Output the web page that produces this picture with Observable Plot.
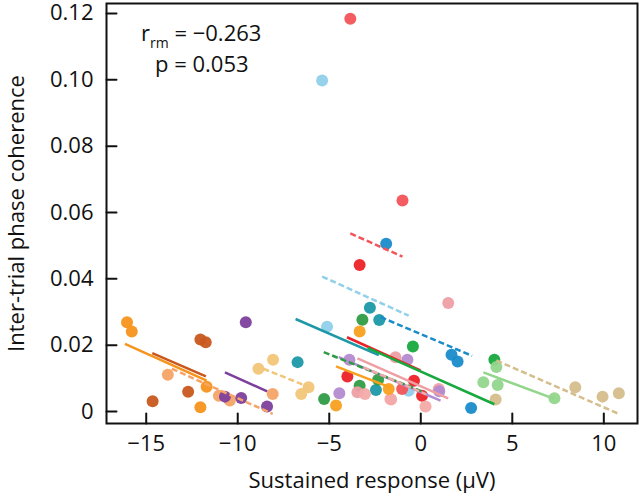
<!DOCTYPE html>
<html>
<head>
<meta charset="utf-8">
<script src="https://cdn.jsdelivr.net/npm/d3@7"></script>
<script src="https://cdn.jsdelivr.net/npm/@observablehq/plot@0.6"></script>
<style>
  html, body { margin: 0; padding: 0; background: #fff; }
  #chart { width: 640px; height: 500px; }
</style>
</head>
<body>
<div id="chart"></div>
<script>
// ---- Data ----
const xTicks = [-15, -10, -5, 0, 5, 10];
const yTicks = [0, 0.02, 0.04, 0.06, 0.08, 0.10, 0.12];
const xTitle = "Sustained response (µV)";
const yTitle = "Inter-trial phase coherence";
const statR = "−0.263";
const statP = "0.053";

// one colour per participant
const subjectColor = [
  "#f7941d", "#c8581e", "#f6a467", "#7d3f9c", "#f2c679", "#1c98a6",
  "#1a8cca", "#90d0ea", "#f2545a", "#ec2227", "#2f9c44", "#17a83e",
  "#92d68c", "#d5be8d", "#ee9fa4", "#f3aaa8", "#b38bd0", "#f8a120"
];

// observations (participant, sustained response, ITPC)
const pointSubject = [
  1, 1, 1, 1,
  2, 2, 2, 2,
  3, 3, 3, 3,
  4, 4, 4, 4,
  5, 5, 5, 5,
  6, 6, 6, 6,
  7, 7, 7, 7,
  8, 8, 8,
  9, 9, 9,
  10, 10, 10, 10,
  11, 11, 11, 11,
  12, 12,
  13, 13, 13, 13,
  14, 14, 14, 14,
  15, 15, 15, 15,
  16, 16, 16, 16,
  17, 17, 17, 17,
  18, 18, 18
];
const pointX = [
  -16.05, -15.79, -11.70, -12.04,
  -12.04, -11.75, -12.71, -14.65,
  -13.82, -11.03, -10.43, -8.09,
  -9.56, -10.70, -9.81, -8.40,
  -8.87, -8.07, -6.13, -6.53,
  -6.73, -2.78, -2.27, -2.45,
  -1.89, 1.68, 2.01, 2.75,
  -5.39, -5.12, -0.66,
  -3.85, -1.00, -1.02,
  -3.34, -4.01, -0.37, 0.07,
  -3.19, -5.28, -3.34, -2.33,
  -0.43, 4.02,
  3.42, 4.13, 4.20, 7.30,
  4.09, 8.44, 9.93, 10.82,
  1.50, -3.46, -1.38, 0.98,
  -3.05, -1.62, 0.26, -1.66,
  -3.90, -0.73, -4.45, 1.01,
  -3.34, -4.63, -1.75
];
const pointY = [
  0.0269, 0.0241, 0.0075, 0.0013,
  0.0217, 0.0209, 0.0060, 0.0031,
  0.0111, 0.0048, 0.0033, 0.0053,
  0.0269, 0.0045, 0.0041, 0.0015,
  0.0129, 0.0156, 0.0073, 0.0053,
  0.0149, 0.0313, 0.0276, 0.0065,
  0.0506, 0.0171, 0.0151, 0.0011,
  0.0998, 0.0256, 0.0063,
  0.1184, 0.0636, 0.0068,
  0.0442, 0.0106, 0.0093, 0.0048,
  0.0277, 0.0038, 0.0078, 0.0096,
  0.0196, 0.0156,
  0.0088, 0.0134, 0.0080, 0.0040,
  0.0036, 0.0073, 0.0045, 0.0055,
  0.0327, 0.0058, 0.0164, 0.0068,
  0.0053, 0.0036, 0.0015, 0.0038,
  0.0156, 0.0156, 0.0055, 0.0061,
  0.0241, 0.0018, 0.0068
];

// per-participant fitted lines (common slope), solid or dashed
const lineX1 = [-16.16, -14.67, -13.60, -10.70, -8.60, -6.84, -2.20, -5.39, -3.85, -4.03, -5.30, -2.90, 3.42, 4.13, -3.46, -3.10, -4.48, -4.63];
const lineY1 = [0.0204, 0.0176, 0.0129, 0.0118, 0.0129, 0.0279, 0.0285, 0.0407, 0.0537, 0.0224, 0.0179, 0.0192, 0.0118, 0.0154, 0.0160, 0.0133, 0.0164, 0.0136];
const lineX2 = [-11.70, -11.74, -8.09, -8.39, -6.20, -2.30, 2.80, -0.66, -1.00, -0.02, 0.20, 4.02, 7.30, 10.82, 1.50, 0.30, 1.08, -1.67];
const lineY2 = [0.0093, 0.0106, -0.0007, 0.0061, 0.0076, 0.0170, 0.0168, 0.0289, 0.0467, 0.0124, 0.0058, 0.0022, 0.0038, -0.0007, 0.0040, 0.0052, 0.0033, 0.0073];
const lineDashed = [false, false, true, false, true, false, true, true, true, false, true, false, false, true, false, true, false, false];

// ---- Build tables ----
const points = pointSubject.map((s, i) => ({s, x: pointX[i], y: pointY[i], color: subjectColor[s - 1]}));
const lines = lineX1.map((_, i) => ({
  x1: lineX1[i], y1: lineY1[i], x2: lineX2[i], y2: lineY2[i],
  color: subjectColor[i], dashed: lineDashed[i]
}));

const fmtY = d => d === 0 ? "0" : d.toFixed(2);
const fmtX = d => d < 0 ? "−" + Math.abs(d) : String(d);

// straight inward tick shape for vector marks
const tickShape = {draw(context, l) { context.moveTo(0, 0); context.lineTo(0, -l); }};

const chart = Plot.plot({
  width: 640,
  height: 500,
  marginLeft: 106,
  marginRight: 3,
  marginTop: 3,
  marginBottom: 77,
  style: {fontFamily: "'Open Sans', sans-serif", fontSize: "22px", color: "#111", background: "#fff"},
  x: {domain: [-17.17, 11.84]},
  y: {domain: [-0.0036, 0.123]},
  color: {type: "identity"},
  marks: [
    Plot.dot(points, {x: "x", y: "y", r: 6, fill: "color", fillOpacity: 0.95, stroke: "none"}),
    Plot.link(lines.filter(d => !d.dashed), {x1: "x1", y1: "y1", x2: "x2", y2: "y2", stroke: "color", strokeWidth: 2.5}),
    Plot.link(lines.filter(d => d.dashed), {x1: "x1", y1: "y1", x2: "x2", y2: "y2", stroke: "color", strokeWidth: 2.5, strokeDasharray: "6,3"}),
    Plot.frame({stroke: "#111", strokeWidth: 2}),
    Plot.vector(xTicks, {x: d => d, frameAnchor: "bottom", length: 10, anchor: "start", shape: tickShape, stroke: "#111", strokeWidth: 2}),
    Plot.vector(yTicks, {y: d => d, frameAnchor: "left", rotate: 90, length: 10, anchor: "start", shape: tickShape, stroke: "#111", strokeWidth: 2}),
    Plot.axisX({ticks: xTicks, tickSize: 0, tickPadding: 12, tickFormat: fmtX, label: null}),
    Plot.axisY({ticks: yTicks, tickSize: 0, tickPadding: 13, tickFormat: fmtY, label: null}),
    Plot.text([xTitle], {frameAnchor: "bottom", dy: 64, fontSize: 22, fill: "#111"}),
    Plot.text([yTitle], {frameAnchor: "left", textAnchor: "middle", dx: -90, rotate: -90, fontSize: 22, fill: "#111"})
  ]
});

document.getElementById("chart").appendChild(chart);

// statistics annotation with subscript
const svg = d3.select(chart);
const t1 = svg.append("text")
  .attr("x", 141).attr("y", 41)
  .attr("text-anchor", "start")
  .attr("font-family", "'Open Sans', sans-serif")
  .attr("font-size", 22).attr("fill", "#111");
t1.append("tspan").text("r");
t1.append("tspan").attr("font-size", 14).attr("dy", 7).text("rm");
t1.append("tspan").attr("dy", -7).text(" = " + statR);
svg.append("text")
  .attr("x", 155).attr("y", 72)
  .attr("text-anchor", "start")
  .attr("font-family", "'Open Sans', sans-serif")
  .attr("font-size", 22).attr("fill", "#111")
  .text("p = " + statP);
</script>
</body>
</html>
